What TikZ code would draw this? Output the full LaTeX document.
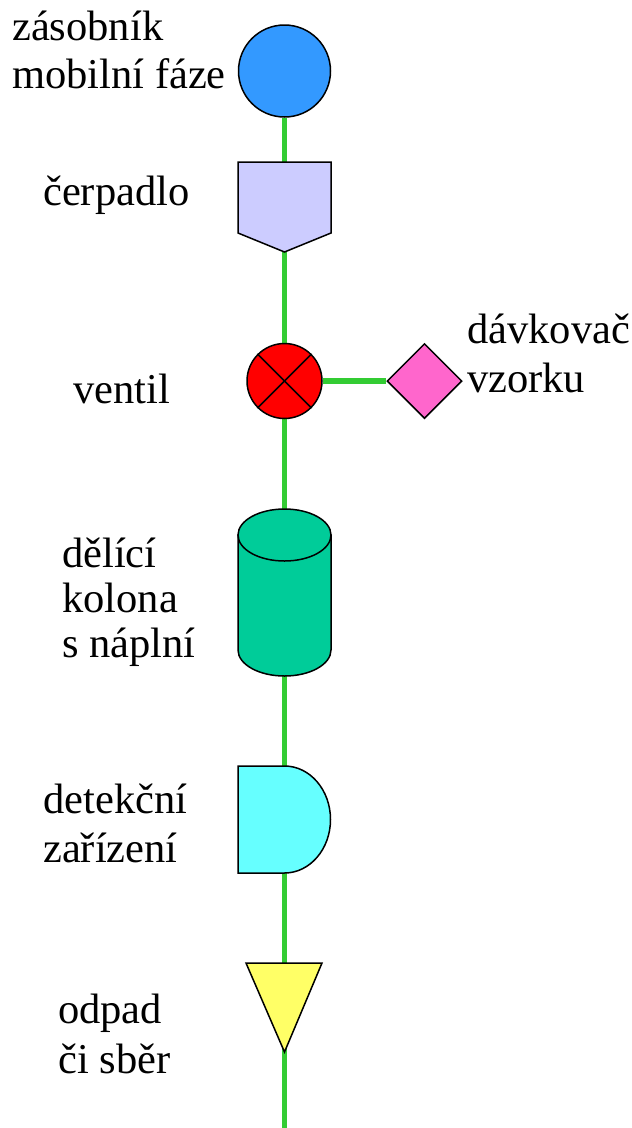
\documentclass[tikz,border=0pt]{standalone}
\usepackage{fontspec}
\setmainfont{Liberation Serif}
\usetikzlibrary{shapes.geometric,backgrounds}

\definecolor{pipegreen}{HTML}{33CC33}
\definecolor{tankblue}{HTML}{3399FF}
\definecolor{pumpviolet}{HTML}{CCCCFF}
\definecolor{injpink}{HTML}{FF66CC}
\definecolor{colgreen}{HTML}{00CC99}
\definecolor{detcyan}{HTML}{66FFFF}
\definecolor{wasteyellow}{HTML}{FFFF66}

\tikzset{
  part/.style={draw=black,line width=1.5pt},
  pipe/.style={draw=pipegreen,line width=5.5pt},
  lbl/.style={anchor=base west,inner sep=0pt,font=\fontsize{42.5}{48}\selectfont}
}

\begin{document}
\begin{tikzpicture}[x=1pt,y=-1pt]
\useasboundingbox (0,0) rectangle (632,1128);

% zasobnik, cerpadlo, ventil, davkovac
\node[part,circle,fill=tankblue,minimum size=92pt,inner sep=0pt] (tank) at (284.5,71) {};
\filldraw[part,fill=pumpviolet] (238,162) -- (331,162) -- (331,233) -- (284.5,252) -- (238,233) -- cycle;
\node[part,circle,fill=red,minimum size=75pt,inner sep=0pt] (valve) at (284.5,381) {};
\draw[part] (valve.north east) -- (valve.south west);
\draw[part] (valve.north west) -- (valve.south east);
\node[part,diamond,fill=injpink,minimum width=75pt,minimum height=75pt,inner sep=0pt] (injector) at (424.5,381) {};

% kolona
\filldraw[part,fill=colgreen] (238,535) -- (238,650) arc[start angle=180,end angle=0,x radius=46.5,y radius=26] -- (331,535) -- cycle;
\filldraw[part,fill=colgreen] (284.5,535) ellipse[x radius=46.5,y radius=26];

% detektor
\filldraw[part,fill=detcyan] (238,766) -- (284.5,766) arc[start angle=-90,end angle=90,x radius=46,y radius=53.5] -- (238,873) -- cycle;

% odpad
\filldraw[part,fill=wasteyellow] (246,963) -- (322,963) -- (284.5,1052) -- cycle;
\coordinate (drain) at (284.5,1128);

% potrubi
\begin{pgfonlayer}{background}
  \draw[pipe] (tank) -- (drain);
  \draw[pipe] (valve) -- (injector);
\end{pgfonlayer}

% popisky
\node[lbl] (tankA) at (12,40) {zásobník};
\node[lbl] (tankB) at (12,88) {mobilní fáze};
\node[lbl] (pumpA) at (43,205) {čerpadlo};
\node[lbl] (valveA) at (73,403) {ventil};
\node[lbl] (injA) at (467,343) {dávkovač};
\node[lbl] (injB) at (467,392) {vzorku};
\node[lbl] (colA) at (62,567) {dělící};
\node[lbl] (colB) at (62,612) {kolona};
\node[lbl] (colC) at (62,657) {s náplní};
\node[lbl] (detA) at (43,813) {detekční};
\node[lbl] (detB) at (43,862) {zařízení};
\node[lbl] (wasteA) at (58,1023) {odpad};
\node[lbl] (wasteB) at (58,1073) {či sběr};
\end{tikzpicture}
\end{document}
